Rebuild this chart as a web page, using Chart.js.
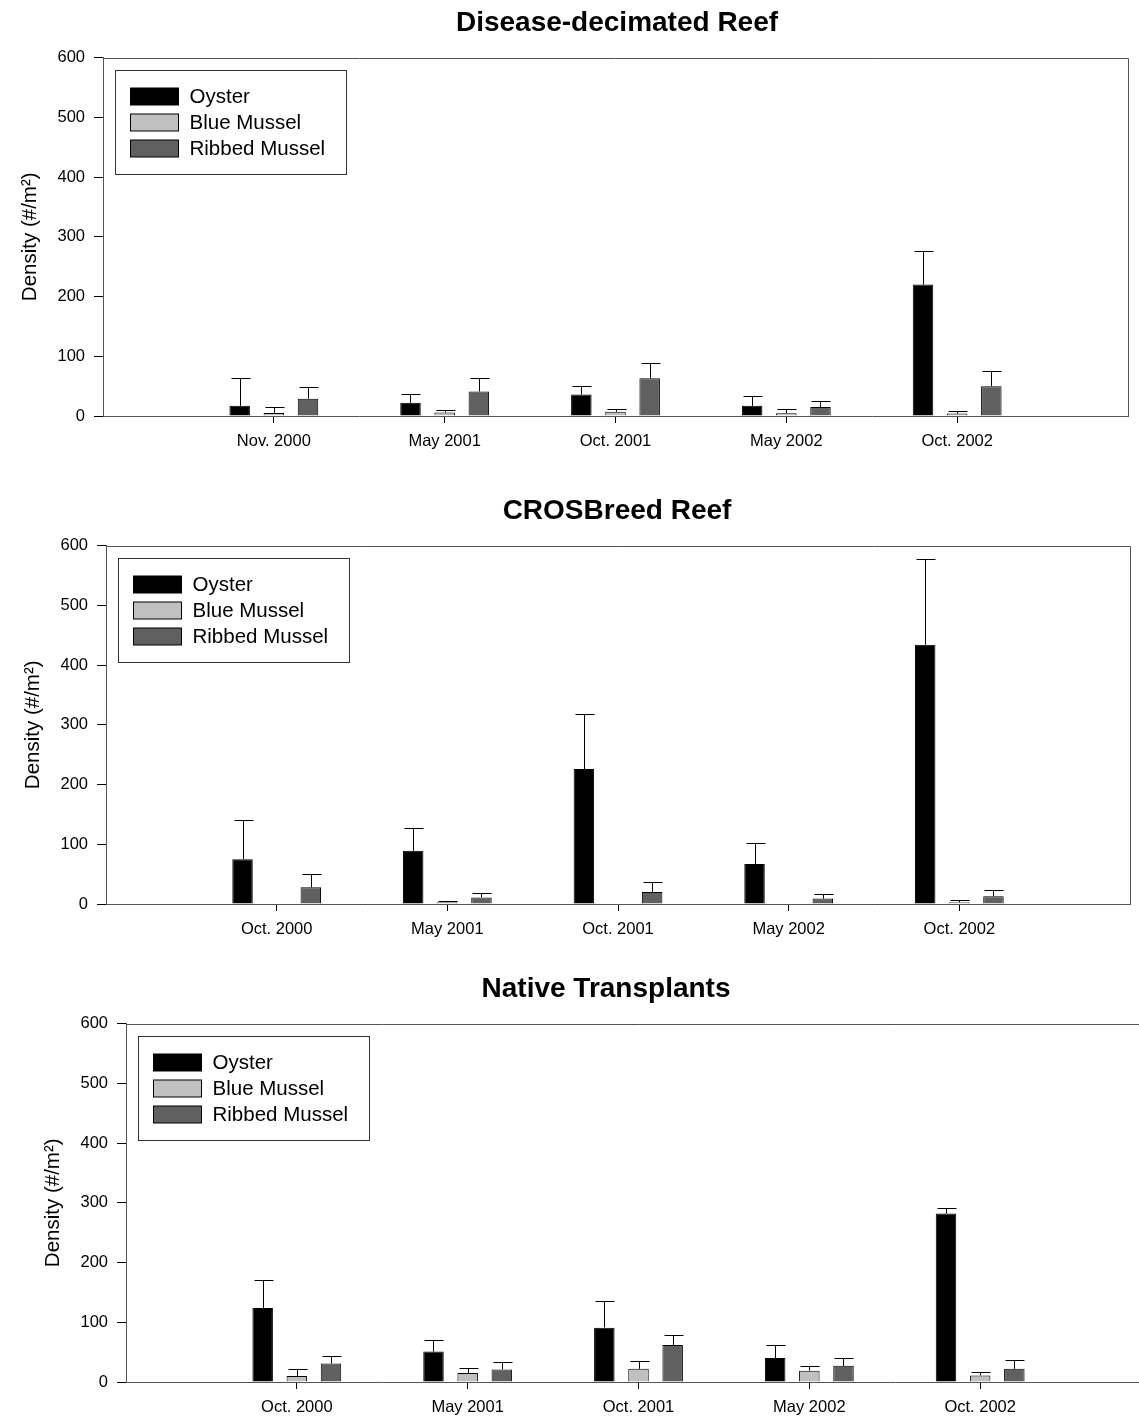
<!DOCTYPE html>
<html lang="en">
<head>
  <meta charset="UTF-8">
  <title>Oyster and Mussel Density</title>
  <!-- Chart.js CDN -->
  <script src="https://cdn.jsdelivr.net/npm/chart.js"></script>
<style>
  html, body {
    margin: 0;
    padding: 0;
    background: #fff;
    width: 1139px;
    height: 1418px;
    overflow: hidden;
  }
  .panel {
    position: absolute;
  }
</style>
</head>
<body>
  <div class="panel" style="left:0px; top:0px;"><canvas id="reefDisease" width="1234" height="461"></canvas></div>
  <div class="panel" style="left:3px; top:488px;"><canvas id="reefCros" width="1228" height="461"></canvas></div>
  <div class="panel" style="left:23px; top:966px;"><canvas id="reefNative" width="1166" height="461"></canvas></div>

  <script>
    // ---- data (density, #/m2) ----
    const seriesNames = ['Oyster', 'Blue Mussel', 'Ribbed Mussel'];
    const yTicks = [0, 100, 200, 300, 400, 500, 600];

    // Disease-decimated Reef
    const diseaseDates = ['Nov. 2000', 'May 2001', 'Oct. 2001', 'May 2002', 'Oct. 2002'];
    const diseaseOyster = [17, 22, 36, 17, 220];
    const diseaseOysterSE = [46, 14, 15, 16, 57];
    const diseaseBlue = [5, 6, 7, 4.5, 4];
    const diseaseBlueSE = [10, 4, 5, 7.5, 4.5];
    const diseaseRibbed = [29, 41, 63, 15, 50];
    const diseaseRibbedSE = [19, 22, 26, 10, 26];

    // CROSBreed Reef
    const crosDates = ['Oct. 2000', 'May 2001', 'Oct. 2001', 'May 2002', 'Oct. 2002'];
    const crosOyster = [75, 89, 226, 67, 434];
    const crosOysterSE = [65, 38, 92, 35, 143];
    const crosBlue = [0, 3, 0, 0, 3];
    const crosBlueSE = [0, 2, 0, 0, 4];
    const crosRibbed = [28, 11, 20, 9, 13];
    const crosRibbedSE = [23, 7, 16, 8, 10];

    // Native Transplants
    const nativeDates = ['Oct. 2000', 'May 2001', 'Oct. 2001', 'May 2002', 'Oct. 2002'];
    const nativeOyster = [124, 51, 91, 40, 282];
    const nativeOysterSE = [46, 20, 45, 22, 9];
    const nativeBlue = [10, 15, 22, 19, 11];
    const nativeBlueSE = [12, 9, 13, 8, 6];
    const nativeRibbed = [31, 21, 62, 27, 22];
    const nativeRibbedSE = [13, 13, 16, 14, 14];

    const barColors = ['#000000', '#c0c0c0', '#606060'];

    Chart.defaults.font.family = '"Liberation Sans", Arial, sans-serif';
    Chart.defaults.color = '#000';

    // empty slot at each end so groups sit at 1/6 .. 5/6 of the width
    const pad = arr => [null, ...arr, null];

    // upper error bars with caps
    const errorBars = {
      id: 'errorBars',
      afterDatasetsDraw(chart) {
        const ctx = chart.ctx;
        const yScale = chart.scales.y;
        ctx.save();
        ctx.strokeStyle = '#000';
        ctx.lineWidth = 1;
        chart.data.datasets.forEach((ds, i) => {
          chart.getDatasetMeta(i).data.forEach((bar, j) => {
            const v = ds.data[j];
            const e = ds.errors[j];
            if (v == null || !e) return;
            const x = Math.round(bar.x) + 0.5;
            const top = Math.round(yScale.getPixelForValue(v + e)) + 0.5;
            ctx.beginPath();
            ctx.moveTo(x, bar.y);
            ctx.lineTo(x, top);
            ctx.moveTo(x - 9, top);
            ctx.lineTo(x + 10, top);
            ctx.stroke();
          });
        });
        ctx.restore();
      }
    };

    // top and right edges of the plot frame
    const frame = {
      id: 'frame',
      afterDraw(chart) {
        const a = chart.chartArea;
        const ctx = chart.ctx;
        ctx.save();
        ctx.strokeStyle = '#555';
        ctx.lineWidth = 1;
        ctx.beginPath();
        ctx.moveTo(Math.round(a.left), Math.round(a.top) + 0.5);
        ctx.lineTo(Math.round(a.right) + 0.5, Math.round(a.top) + 0.5);
        ctx.lineTo(Math.round(a.right) + 0.5, Math.round(a.bottom));
        ctx.stroke();
        ctx.restore();
      }
    };

    // boxed legend in the upper left of the plot
    const boxLegend = {
      id: 'boxLegend',
      afterDraw(chart) {
        const a = chart.chartArea;
        const ctx = chart.ctx;
        const bx = Math.round(a.left) + 12.5;
        const by = Math.round(a.top) + 12.5;
        ctx.save();
        ctx.strokeStyle = '#333';
        ctx.lineWidth = 1;
        ctx.strokeRect(bx, by, 231, 104);
        ctx.font = '20.5px "Liberation Sans", Arial, sans-serif';
        ctx.textBaseline = 'middle';
        ctx.textAlign = 'left';
        chart.data.datasets.forEach((ds, i) => {
          const cy = by + 26 + i * 26;
          ctx.fillStyle = ds.backgroundColor;
          ctx.fillRect(bx + 15, cy - 8.5, 48, 17);
          ctx.strokeStyle = '#000';
          ctx.strokeRect(bx + 15, cy - 8.5, 48, 17);
          ctx.fillStyle = '#000';
          ctx.fillText(ds.label, bx + 74, cy + 1);
        });
        ctx.restore();
      }
    };

    function makeChart(id, title, dates, oyster, oysterSE, blue, blueSE, ribbed, ribbedSE, rightSpace) {
      const values = [oyster, blue, ribbed];
      const errors = [oysterSE, blueSE, ribbedSE];
      const ctx = document.getElementById(id).getContext('2d');
      return new Chart(ctx, {
        type: 'bar',
        data: {
          labels: ['', ...dates, ''],
          datasets: seriesNames.map((name, i) => ({
            label: name,
            data: pad(values[i]),
            errors: pad(errors[i]),
            backgroundColor: barColors[i],
            borderColor: '#000',
            borderWidth: c => (c.raw ? 1 : 0),
            categoryPercentage: 0.6,
            barPercentage: 0.6,
            yAxisID: 'y'
          }))
        },
        options: {
          responsive: false,
          animation: false,
          layout: { padding: 0 },
          plugins: {
            legend: { display: false },
            tooltip: { enabled: false },
            title: {
              display: true,
              text: title,
              color: '#000',
              font: { size: 28, weight: 'bold' },
              padding: { top: 6, bottom: 18 }
            }
          },
          scales: {
            x: {
              type: 'category',
              offset: false,
              grid: {
                offset: false,
                drawOnChartArea: false,
                drawTicks: true,
                tickLength: 7,
                tickColor: c => (c.index === 0 || c.index === dates.length + 1) ? 'rgba(0,0,0,0)' : '#000'
              },
              border: { color: '#555' },
              ticks: { autoSkip: false, maxRotation: 0, padding: 9, color: '#000', font: { size: 16.5 } },
              afterFit: s => { s.height = 45; }
            },
            y: {
              type: 'linear',
              min: yTicks[0],
              max: yTicks[yTicks.length - 1],
              afterBuildTicks: s => { s.ticks = yTicks.map(v => ({ value: v })); },
              grid: { drawOnChartArea: false, tickLength: 9, tickColor: '#000' },
              border: { color: '#555' },
              ticks: { padding: 9, color: '#000', font: { size: 16.5 } },
              title: {
                display: true,
                text: 'Density (#/m²)',
                color: '#000',
                font: { size: 20.5 },
                padding: { top: 18, bottom: 0 }
              },
              afterFit: s => { s.width = 103; }
            },
            // spacer on the right so the title centres like the original
            yR: {
              type: 'linear',
              position: 'right',
              ticks: { display: false },
              grid: { display: false },
              border: { display: false },
              afterFit: s => { s.width = rightSpace; }
            }
          }
        },
        plugins: [errorBars, frame, boxLegend]
      });
    }

    makeChart('reefDisease', 'Disease-decimated Reef', diseaseDates,
      diseaseOyster, diseaseOysterSE, diseaseBlue, diseaseBlueSE, diseaseRibbed, diseaseRibbedSE, 106);
    makeChart('reefCros', 'CROSBreed Reef', crosDates,
      crosOyster, crosOysterSE, crosBlue, crosBlueSE, crosRibbed, crosRibbedSE, 101);
    makeChart('reefNative', 'Native Transplants', nativeDates,
      nativeOyster, nativeOysterSE, nativeBlue, nativeBlueSE, nativeRibbed, nativeRibbedSE, 38);
  </script>
</body>
</html>
